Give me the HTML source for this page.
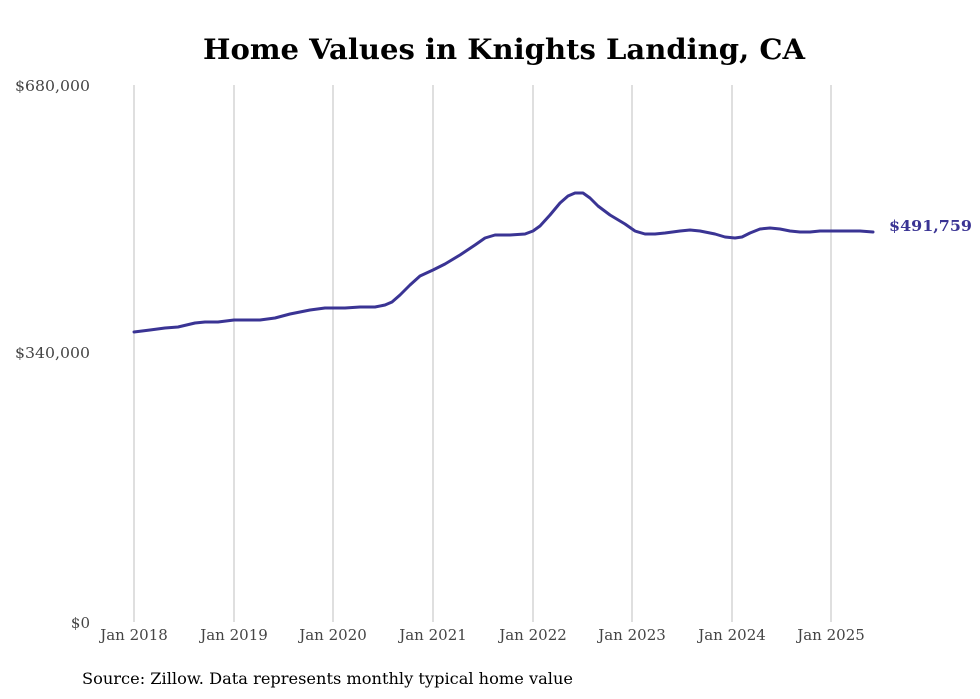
<!DOCTYPE html>
<html><head><meta charset="utf-8"><style>
html,body{margin:0;padding:0;background:#fff;}
svg{display:block;font-family:"DejaVu Serif","Liberation Serif",serif;}
</style></head><body>
<svg width="980" height="699" viewBox="0 0 980 699" xmlns="http://www.w3.org/2000/svg">
<rect width="980" height="699" fill="#fff"/>
<text x="504" y="59" text-anchor="middle" font-size="28" font-weight="bold" fill="#000" textLength="602" lengthAdjust="spacingAndGlyphs">Home Values in Knights Landing, CA</text>
<g stroke="#bfbfbf" stroke-width="1">
<line x1="134" y1="85" x2="134" y2="622"/><line x1="234" y1="85" x2="234" y2="622"/>
<line x1="333" y1="85" x2="333" y2="622"/><line x1="433" y1="85" x2="433" y2="622"/>
<line x1="533" y1="85" x2="533" y2="622"/><line x1="632" y1="85" x2="632" y2="622"/>
<line x1="732" y1="85" x2="732" y2="622"/><line x1="831" y1="85" x2="831" y2="622"/>
</g>
<g font-size="15" fill="#444" text-anchor="end">
<text x="90" y="91" textLength="75" lengthAdjust="spacingAndGlyphs">$680,000</text>
<text x="90" y="358" textLength="75" lengthAdjust="spacingAndGlyphs">$340,000</text>
<text x="90" y="628">$0</text>
</g>
<g font-size="15" fill="#444" text-anchor="middle">
<text x="134" y="640">Jan 2018</text><text x="234" y="640">Jan 2019</text>
<text x="333" y="640">Jan 2020</text><text x="433" y="640">Jan 2021</text>
<text x="533" y="640">Jan 2022</text><text x="632" y="640">Jan 2023</text>
<text x="732" y="640">Jan 2024</text><text x="831" y="640">Jan 2025</text>
</g>
<polyline fill="none" stroke="#3a3494" stroke-width="3" stroke-linejoin="round" stroke-linecap="round" points="134,332 150,330 165,328 178,327 195,323 205,322 218,322 234,320 245,320 260,320 275,318 290,314 310,310 325,308 345,308 360,307 375,307 385,305 392,302 400,295 410,285 420,276 433,270 445,264 460,255 475,245 485,238 495,235 510,235 525,234 533,231 540,226 550,215 560,203 568,196 575,193 583,193 590,198 598,206 610,215 625,224 635,231 645,234 655,234 665,233 680,231 690,230 700,231 715,234 725,237 735,238 742,237 750,233 760,229 770,228 780,229 790,231 800,232 810,232 820,231 830,231 845,231 860,231 873,232"/>
<text x="889" y="231" font-size="15" font-weight="bold" fill="#3a3494" textLength="83" lengthAdjust="spacingAndGlyphs">$491,759</text>
<text x="82" y="684" font-size="16" fill="#000" textLength="491" lengthAdjust="spacingAndGlyphs">Source: Zillow. Data represents monthly typical home value</text>
</svg>
</body></html>
